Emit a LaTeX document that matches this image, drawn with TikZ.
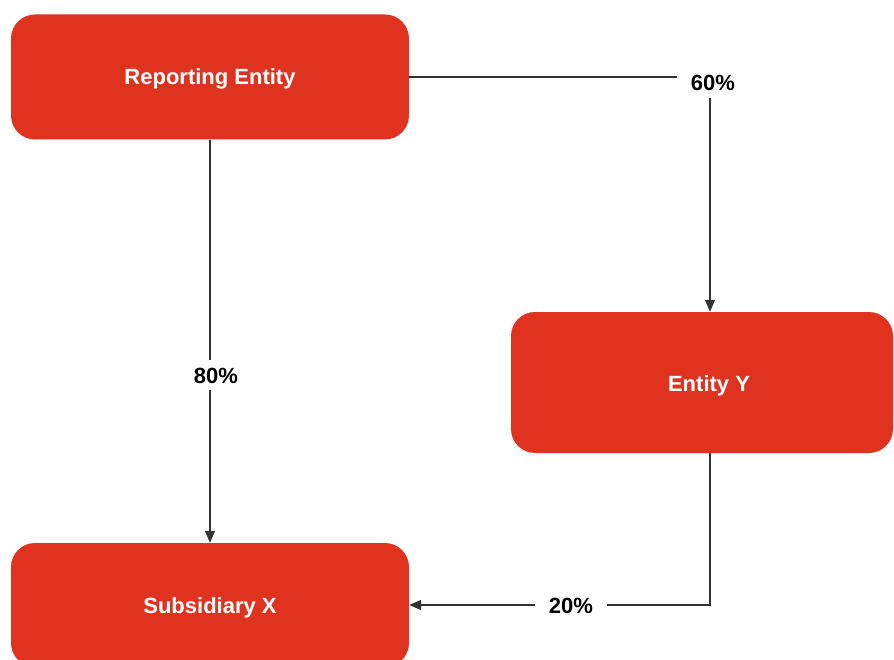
\documentclass[tikz,border=0pt]{standalone}
\usepackage{fontspec}
\setmainfont{Liberation Sans}
\usetikzlibrary{arrows.meta}
\definecolor{boxred}{HTML}{DF321F}
\definecolor{linegray}{HTML}{333333}
\tikzset{
  bigtext/.style={font=\fontsize{22}{26}\selectfont\bfseries, text height=16pt, text depth=0pt},
  entity/.style={fill=boxred, draw=none, rounded corners=24pt, text=white,
    bigtext, align=center, inner sep=0pt},
  pct/.style={fill=white, inner xsep=14pt, inner ysep=7pt, bigtext, text=black},
  link/.style={draw=linegray, line width=1.1pt, -{Triangle[length=12pt,width=10pt]}},
}
\begin{document}
\begin{tikzpicture}[x=1pt,y=-1pt]
\useasboundingbox (0,0) rectangle (894,660);
\begin{scope}
\clip (0,0) rectangle (894,660);
\node[entity, minimum width=398pt, minimum height=125pt] (rep) at (210,77) {Reporting Entity};
\node[entity, minimum width=382pt, minimum height=141pt] (ey) at (702,382.5) {};
\node[bigtext, text=white, inner sep=0pt] (eyt) at (709,383) {Entity Y};
\node[entity, minimum width=398pt, minimum height=124pt] (sx) at (210,605) {Subsidiary X};
\end{scope}
\coordinate (c1) at (710,77);
\coordinate (c2) at (710,605);
\draw[link] (rep.east) -- (c1) -- (ey.north -| c1);
\draw[link] (rep.south) -- (sx.north);
\draw[link] (ey.south -| c2) -- (c2) -- (sx.east);
\node[pct] (p60) at (713,83) {60\%};
\node[pct] (p80) at (216,375) {80\%};
\node[pct] (p20) at (571,605) {20\%};
\end{tikzpicture}
\end{document}
